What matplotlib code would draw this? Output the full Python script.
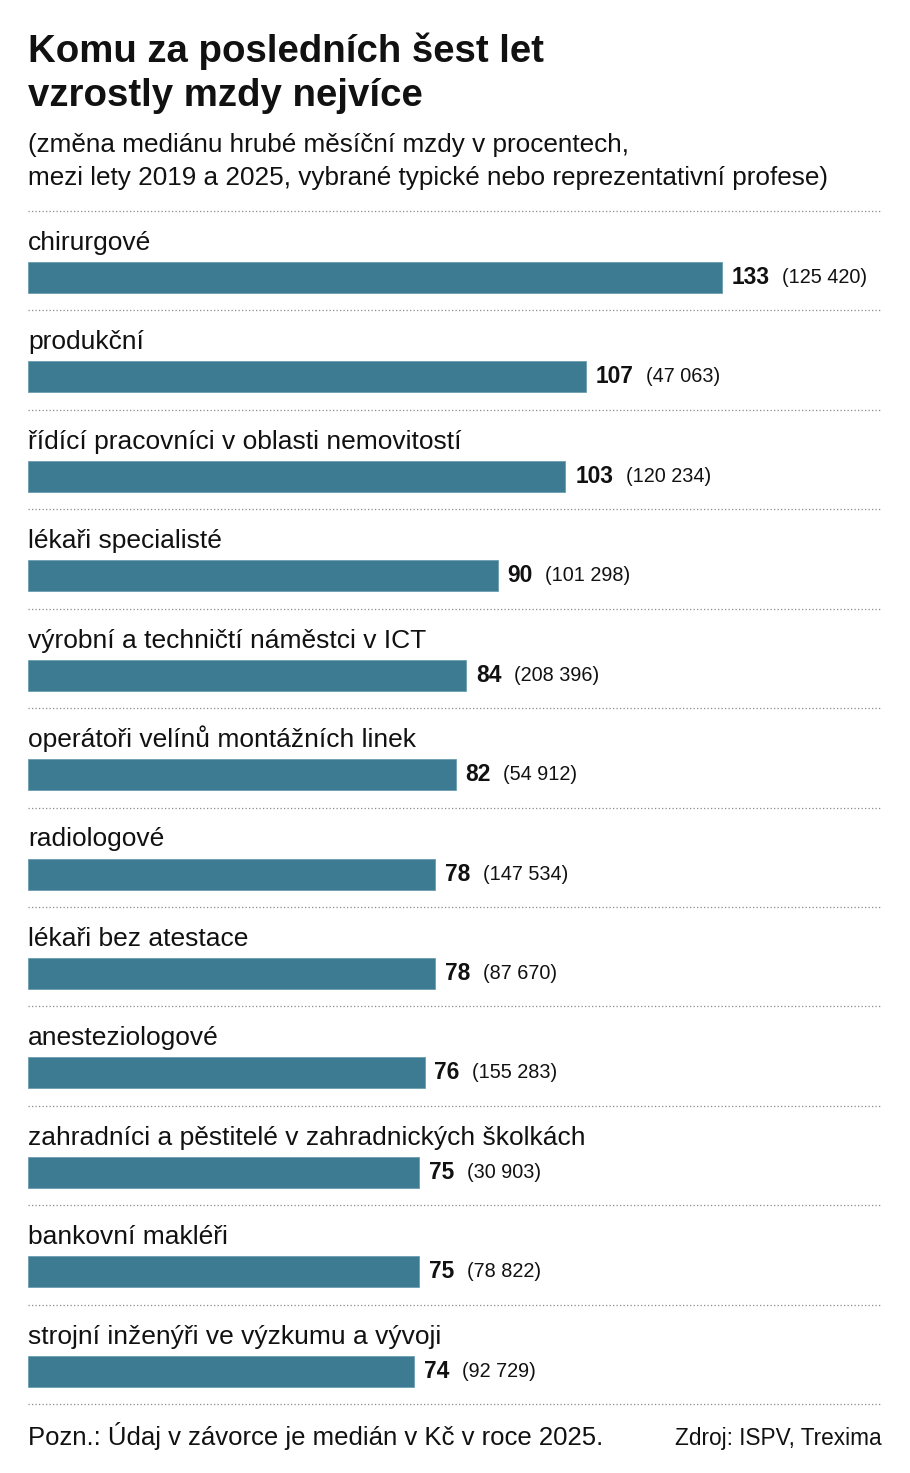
import matplotlib
matplotlib.use("Agg")
import matplotlib.pyplot as plt
from matplotlib import font_manager

# data
categories = [
    "chirurgové",
    "produkční",
    "řídící pracovníci v oblasti nemovitostí",
    "lékaři specialisté",
    "výrobní a techničtí náměstci v ICT",
    "operátoři velínů montážních linek",
    "radiologové",
    "lékaři bez atestace",
    "anesteziologové",
    "zahradníci a pěstitelé v zahradnických školkách",
    "bankovní makléři",
    "strojní inženýři ve výzkumu a vývoji",
]
growth_pct = [133, 107, 103, 90, 84, 82, 78, 78, 76, 75, 75, 74]
median_2025 = [125420, 47063, 120234, 101298, 208396, 54912,
               147534, 87670, 155283, 30903, 78822, 92729]

title_lines = ["Komu za posledních šest let", "vzrostly mzdy nejvíce"]
subtitle_lines = ["(změna mediánu hrubé měsíční mzdy v procentech,",
                  "mezi lety 2019 a 2025, vybrané typické nebo reprezentativní profese)"]
note = "Pozn.: Údaj v závorce je medián v Kč v roce 2025."
source = "Zdroj: ISPV, Trexima"

BAR = "#3d7b93"
INK = "#111111"
W, H = 910, 1473

names = {f.name for f in font_manager.fontManager.ttflist}
MAIN = "Liberation Sans" if "Liberation Sans" in names else "DejaVu Sans"
NARROW = "Liberation Sans Narrow" if "Liberation Sans Narrow" in names else MAIN
num_scale = 1.0 if NARROW != MAIN else 0.82

plt.rcParams["font.family"] = [MAIN, "DejaVu Sans"]

fig = plt.figure(figsize=(W / 100, H / 100), dpi=100)


def fy(px):
    return 1 - px / H


def fx(px):
    return px / W


# title + subtitle
fig.text(fx(28), fy(62), title_lines[0], fontsize=27.6, fontweight="bold", color=INK)
fig.text(fx(28), fy(106), title_lines[1], fontsize=27.6, fontweight="bold", color=INK)
fig.text(fx(28), fy(152), subtitle_lines[0], fontsize=18.8, color=INK)
fig.text(fx(28), fy(185), subtitle_lines[1], fontsize=18.8, color=INK)

# bars area: from the first to the last dotted separator
top_px, bot_px = 211, 1404
ax = fig.add_axes([fx(28), fy(bot_px), fx(882) - fx(28), (bot_px - top_px) / H])
n = len(categories)
ax.set_xlim(0, 854 / (694 / 133))
ax.set_ylim(n, 0)
ax.axis("off")

bar_off, bar_h, lab_off = 0.669, 0.312, 0.392
ys = [i + bar_off for i in range(n)]
ax.barh(ys, growth_pct, height=bar_h, color=BAR, edgecolor="#6b9db0", linewidth=0.6)

for i, (cat, val, med) in enumerate(zip(categories, growth_pct, median_2025)):
    ax.text(0, i + lab_off, cat, fontsize=19, color=INK, va="baseline", ha="left")
    t1 = ax.annotate(str(val), xy=(val, ys[i]), xytext=(7, 0), textcoords="offset points",
                     va="center", ha="left", fontsize=20 * num_scale, fontweight="bold",
                     color=INK, family=[NARROW, "DejaVu Sans"])
    med_txt = "({:,})".format(med).replace(",", " ")
    ax.annotate(med_txt, xy=(1, 0.5), xycoords=t1, xytext=(9, 0), textcoords="offset points",
                va="center", ha="left", fontsize=17.4 * num_scale, color=INK,
                family=[NARROW, "DejaVu Sans"])

for i in range(n + 1):
    ax.axhline(i, color="#8a8a8a", linewidth=0.9, linestyle=(0, (1, 1.8)), clip_on=False)

# footer
fig.text(fx(28), fy(1445), note, fontsize=18.5, color=INK)
fig.text(fx(882), fy(1445), source, fontsize=16.3, color=INK, ha="right")

fig.savefig("out.png", dpi=100)
plt.close(fig)
